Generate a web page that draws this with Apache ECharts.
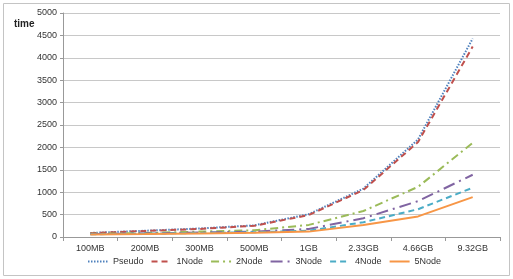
<!DOCTYPE html>
<html><head><meta charset="utf-8">
<script src="https://cdn.jsdelivr.net/npm/echarts@6/dist/echarts.min.js"></script>
<style>html,body{margin:0;padding:0;background:#fff}#c{width:513px;height:279px}</style>
</head><body><div id="c"></div>
<script>
const categories = ['100MB','200MB','300MB','500MB','1GB','2.33GB','4.66GB','9.32GB'];
const seriesNames = ['Pseudo','1Node','2Node','3Node','4Node','5Node'];
const pseudo = [90, 140, 190, 260, 510, 1080, 2180, 4430];
const node1  = [85, 135, 180, 250, 490, 1050, 2120, 4250];
const node2  = [70, 90, 120, 150, 270, 580, 1120, 2100];
const node3  = [65, 80, 100, 120, 180, 420, 800, 1390];
const node4  = [60, 75, 90, 105, 140, 330, 620, 1100];
const node5  = [55, 65, 80, 95, 120, 270, 460, 890];
const yTicks = [0, 500, 1000, 1500, 2000, 2500, 3000, 3500, 4000, 4500, 5000];

const values = [pseudo, node1, node2, node3, node4, node5];
const colors = ['#4F81BD','#C0504D','#9BBB59','#8064A2','#4BACC6','#F79646'];
const dashes = [[1.5,1.5],[6,4],[8,4,2,4],[12,5,2,5],[6,4],'solid'];

const chart = echarts.init(document.getElementById('c'));
chart.setOption({
  animation: false,
  textStyle: {fontFamily: 'Liberation Sans'},
  graphic: [{type:'rect', shape:{x:3.5,y:3.5,width:506,height:272}, style:{fill:'none', stroke:'#c4c4c4', lineWidth:1}}],
  title: {text:'time', left: 9, top: 14, textStyle:{fontSize:10, fontWeight:'bold', color:'#222', fontFamily:'Liberation Sans'}},
  grid: {left: 63, right: 13, top: 13, bottom: 42},
  legend: {
    bottom: 8, left: 82, itemWidth: 20, itemHeight: 10, itemGap: 7,
    textStyle: {fontSize: 9, color: '#333'},
    itemStyle: {opacity: 0},
    data: seriesNames
  },
  xAxis: {
    type: 'category', data: categories, boundaryGap: true,
    axisLine: {lineStyle: {color: '#999'}},
    axisTick: {show: true, length: 4, lineStyle: {color: '#999'}},
    axisLabel: {fontSize: 9, color: '#333', margin: 7}
  },
  yAxis: {
    type: 'value', min: yTicks[0], max: yTicks[yTicks.length-1], interval: 500,
    axisLine: {show: true, lineStyle: {color: '#999'}},
    axisTick: {show: true, length: 3, lineStyle: {color: '#999'}},
    axisLabel: {fontSize: 9, color: '#333', margin: 6, formatter: v => String(v)},
    splitLine: {lineStyle: {color: '#c8c8c8'}}
  },
  series: seriesNames.map((n, i) => ({
    name: n, type: 'line', data: values[i], symbol: 'none', smooth: false,
    itemStyle: {color: colors[i]},
    lineStyle: {color: colors[i], width: 2, type: dashes[i]}
  }))
});
</script></body></html>
